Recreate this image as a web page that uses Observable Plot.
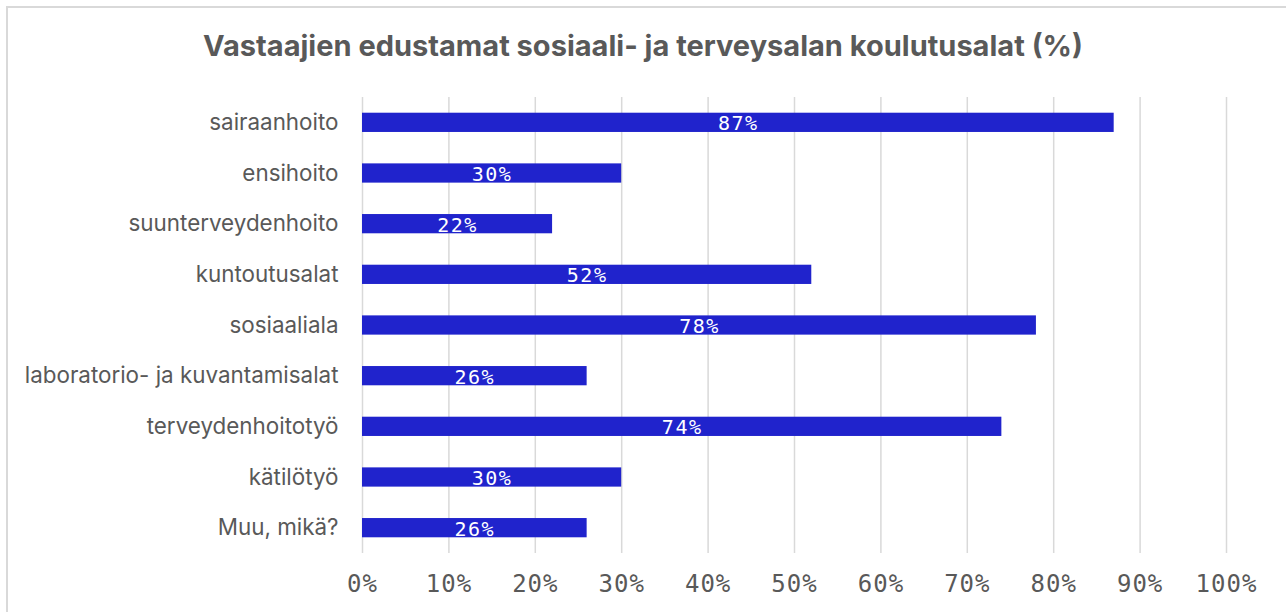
<!DOCTYPE html>
<html><head><meta charset="utf-8">
<script src="https://cdn.jsdelivr.net/npm/d3@7"></script>
<script src="https://cdn.jsdelivr.net/npm/@observablehq/plot@0.6"></script>
<style>
body{margin:0;background:#fff;width:1286px;height:612px;overflow:hidden;position:relative}
#frame{position:absolute;left:6px;top:6px;width:1400px;height:700px;border:2px solid #d9d9d9;box-sizing:border-box}
#title{position:absolute;left:0;top:0;width:1286px;height:90px;line-height:92px;text-align:center;font-family:Inter,sans-serif;font-weight:bold;font-size:29px;color:#595959}
#chart{position:absolute;left:0;top:90px}
</style></head>
<body>
<div id="frame"></div>
<div id="title">Vastaajien edustamat sosiaali- ja terveysalan koulutusalat (%)</div>
<div id="chart"></div>
<script>
const categories = ["sairaanhoito","ensihoito","suunterveydenhoito","kuntoutusalat","sosiaaliala","laboratorio- ja kuvantamisalat","terveydenhoitotyö","kätilötyö","Muu, mikä?"];
const values = [87, 30, 22, 52, 78, 26, 74, 30, 26];
const xTicks = [0,10,20,30,40,50,60,70,80,90,100];

const data = categories.map((c,i)=>({cat:c, v:values[i]}));
const mono = "'DejaVu Sans Mono', monospace";

const chart = Plot.plot({
  width: 1286,
  height: 522,
  marginTop: 7,
  marginBottom: 59,
  marginLeft: 362,
  marginRight: 60,
  style: {fontFamily: "Inter, sans-serif", background: "transparent"},
  x: {domain: [0,100]},
  y: {domain: categories, paddingInner: 0.62, paddingOuter: 0.31, round: false},
  marks: [
    Plot.ruleX(xTicks, {stroke: "#d9d9d9", strokeWidth: 1.5}),
    Plot.barX(data, {x: "v", y: "cat", fill: "#2023cc"}),
    Plot.text(data, {x: d => d.v/2, y: "cat", text: d => d.v + "%", fill: "white", fontSize: 20, fontFamily: mono, dy: 1}),
    Plot.axisX({ticks: xTicks, tickSize: 0, tickPadding: 21, tickFormat: d => d + "%", fontSize: 24, fontFamily: mono, fill: "#595959", label: null}),
    Plot.axisY({tickSize: 0, tickPadding: 24, fontSize: 22.4, fill: "#595959", label: null})
  ]
});
document.getElementById("chart").appendChild(chart);
d3.select(chart).selectAll("g[aria-label='x-axis tick label'] text").style("letter-spacing","1px");
d3.select(chart).selectAll("g[aria-label='text'] text").style("letter-spacing","1.5px");
</script>
</body></html>
